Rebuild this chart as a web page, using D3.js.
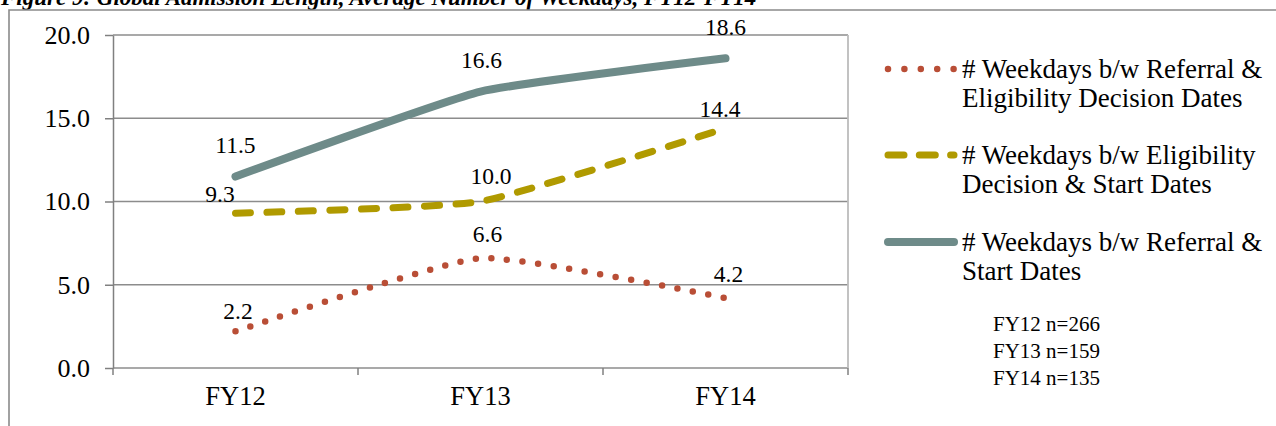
<!DOCTYPE html>
<html>
<head>
<meta charset="utf-8">
<script src="https://cdn.jsdelivr.net/npm/d3@7"></script>
<style>
  html, body { margin: 0; padding: 0; background: #fff; }
  svg { display: block; }
  text { font-family: "Liberation Serif", "Times New Roman", serif; fill: #000; }
</style>
</head>
<body>
<svg id="chart"></svg>
<script>
// ---- data ----
const categories = ["FY12", "FY13", "FY14"];
const referralToDecision = [2.2, 6.6, 4.2];
const decisionToStart = [9.3, 10.0, 14.4];
const referralToStart = [11.5, 16.6, 18.6];
const legendLabels = [
  ["# Weekdays b/w Referral &", "Eligibility Decision Dates"],
  ["# Weekdays b/w Eligibility", "Decision & Start Dates"],
  ["# Weekdays b/w Referral &", "Start Dates"]
];
const yTicks = [0, 5, 10, 15, 20];
const sampleNotes = ["FY12 n=266", "FY13 n=159", "FY14 n=135"];
const titleText = "Figure 9: Global Admission Length, Average Number of Weekdays, FY12-FY14";

// ---- layout ----
const W = 1276, H = 426;
const svg = d3.select("#chart").attr("width", W).attr("height", H);

const plot = { left: 113, right: 848, top: 35, bottom: 368 };

const x = d3.scaleBand().domain(categories).range([plot.left, plot.right]).padding(0);
const y = d3.scaleLinear().domain([0, 20]).range([plot.bottom, plot.top]);
const cx = c => x(c) + x.bandwidth() / 2;

// series styling
const series = [
  { values: referralToDecision, color: "#B94E36", width: 6.5, dash: "0 15.7", legendDash: "0 16.4",
    labelOff: [[2.5, -12], [7, -16], [3, -16]] },
  { values: decisionToStart, color: "#B09A00", width: 7, dash: "15 16.5", legendDash: "16 15.3",
    labelOff: [[-15.5, -11], [10.5, -17.5], [-5.5, -11]] },
  { values: referralToStart, color: "#6E8B89", width: 8, dash: null, legendDash: null,
    labelOff: [[0, -24], [1, -23.5], [0, -23]] }
];

// title (runs off the top edge)
svg.append("text")
  .attr("x", 1).attr("y", 5)
  .attr("font-size", 23).attr("font-weight", "bold").attr("font-style", "italic")
  .text(titleText);

// outer chart frame
svg.append("path")
  .attr("d", `M9,${H + 5} V10 H${W + 5}`)
  .attr("fill", "none").attr("stroke", "#8a8a8a").attr("stroke-width", 1.6);

// horizontal gridlines
svg.append("g").selectAll("line").data(yTicks).join("line")
  .attr("x1", plot.left).attr("x2", plot.right)
  .attr("y1", d => y(d)).attr("y2", d => y(d))
  .attr("stroke", "#8c8c8c").attr("stroke-width", 1.5);

// right edge of plot area
svg.append("line")
  .attr("x1", plot.right).attr("x2", plot.right)
  .attr("y1", y(20)).attr("y2", y(0))
  .attr("stroke", "#bcbcbc").attr("stroke-width", 1.8);

// y axis
const yAxis = svg.append("g")
  .attr("transform", `translate(${plot.left},0)`)
  .call(d3.axisLeft(y).tickValues(yTicks).tickFormat(d3.format(".1f"))
    .tickSize(8).tickSizeOuter(0).tickPadding(15));
yAxis.select(".domain").attr("stroke", "#808080").attr("stroke-width", 1.5);
yAxis.selectAll(".tick line").attr("stroke", "#808080").attr("stroke-width", 1.5);
yAxis.selectAll(".tick text")
  .attr("font-family", "Liberation Serif, Times New Roman, serif")
  .attr("font-size", 26).attr("fill", "#000");

// x axis: boundary ticks and category labels
const bounds = categories.map(c => x(c)).concat([plot.right]);
svg.append("g").selectAll("line").data(bounds).join("line")
  .attr("x1", d => d).attr("x2", d => d)
  .attr("y1", y(0)).attr("y2", y(0) + 7)
  .attr("stroke", "#808080").attr("stroke-width", 1.5);
svg.append("g").selectAll("text").data(categories).join("text")
  .attr("x", d => cx(d)).attr("y", 405)
  .attr("text-anchor", "middle").attr("font-size", 26.5)
  .text(d => d);

// series lines (smoothed)
const line = d3.line()
  .x((d, i) => cx(categories[i]))
  .y(d => y(d))
  .curve(d3.curveCardinal.tension(0.55));

series.forEach(s => {
  svg.append("path")
    .datum(s.values)
    .attr("d", line)
    .attr("fill", "none")
    .attr("stroke", s.color)
    .attr("stroke-width", s.width)
    .attr("stroke-linecap", "round")
    .attr("stroke-linejoin", "round")
    .attr("stroke-dasharray", s.dash);
});

// data labels
series.forEach(s => {
  svg.append("g").selectAll("text").data(s.values).join("text")
    .attr("x", (d, i) => cx(categories[i]) + s.labelOff[i][0])
    .attr("y", (d, i) => y(d) + s.labelOff[i][1])
    .attr("text-anchor", "middle")
    .attr("font-size", 23.5)
    .text(d => d3.format(".1f")(d));
});

// legend
const legendRows = [69, 155, 242];
series.forEach((s, i) => {
  const ly = legendRows[i];
  svg.append("line")
    .attr("x1", 888).attr("x2", 954)
    .attr("y1", ly).attr("y2", ly)
    .attr("stroke", s.color).attr("stroke-width", s.width)
    .attr("stroke-linecap", "round")
    .attr("stroke-dasharray", s.legendDash);
  const t = svg.append("text").attr("x", 962).attr("y", ly + 9).attr("font-size", 27);
  legendLabels[i].forEach((l, j) => {
    t.append("tspan").attr("x", 962).attr("dy", j === 0 ? 0 : 29).text(l);
  });
});

// sample sizes
svg.append("g").selectAll("text").data(sampleNotes).join("text")
  .attr("x", 993).attr("y", (d, i) => 331 + i * 27)
  .attr("font-size", 21)
  .text(d => d);
</script>
</body>
</html>
